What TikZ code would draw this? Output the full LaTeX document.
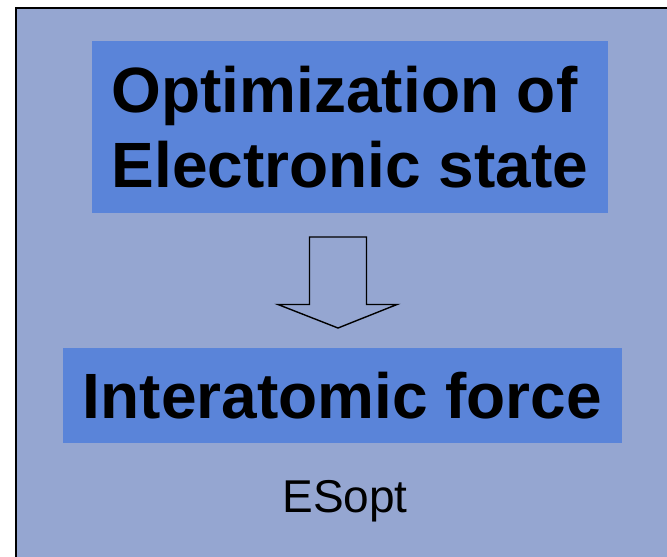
\documentclass[tikz,border=0pt]{standalone}
\usepackage{fontspec}
\setmainfont{Liberation Sans}
\definecolor{panelbg}{HTML}{95A6D1}
\definecolor{boxblue}{HTML}{5A84D9}
\tikzset{
  bluebox/.style={fill=boxblue, draw=none, inner sep=0pt, align=left,
    font=\fontsize{64}{75}\selectfont\bfseries},
  label/.style={inner sep=0pt, font=\fontsize{46}{50}\selectfont, anchor=base},
  blockarrow/.style={draw=black, line width=1.4pt, line join=miter, fill=panelbg}
}
\begin{document}
\begin{tikzpicture}[x=1pt,y=-1pt]
\useasboundingbox (0,0) rectangle (667,557);
\fill[white] (0,0) rectangle (667,557);
\draw[fill=panelbg, line width=1.6pt] (16,8) rectangle (690,590);
\node[bluebox, minimum width=516pt, minimum height=172pt] (top) at (350,127) {Optimization of\\Electronic state};
\node[bluebox, minimum width=559pt, minimum height=95pt] (bottom) at (342.5,395.5) {Interatomic force};
\node[label] (es) at (345,512) {ESopt};
\draw[blockarrow] (309.5,237) -- (366.5,237) -- (366.5,304.5) -- (397,304.5) -- (338,328) -- (278,304.5) -- (309.5,304.5) -- cycle;
\end{tikzpicture}
\end{document}
